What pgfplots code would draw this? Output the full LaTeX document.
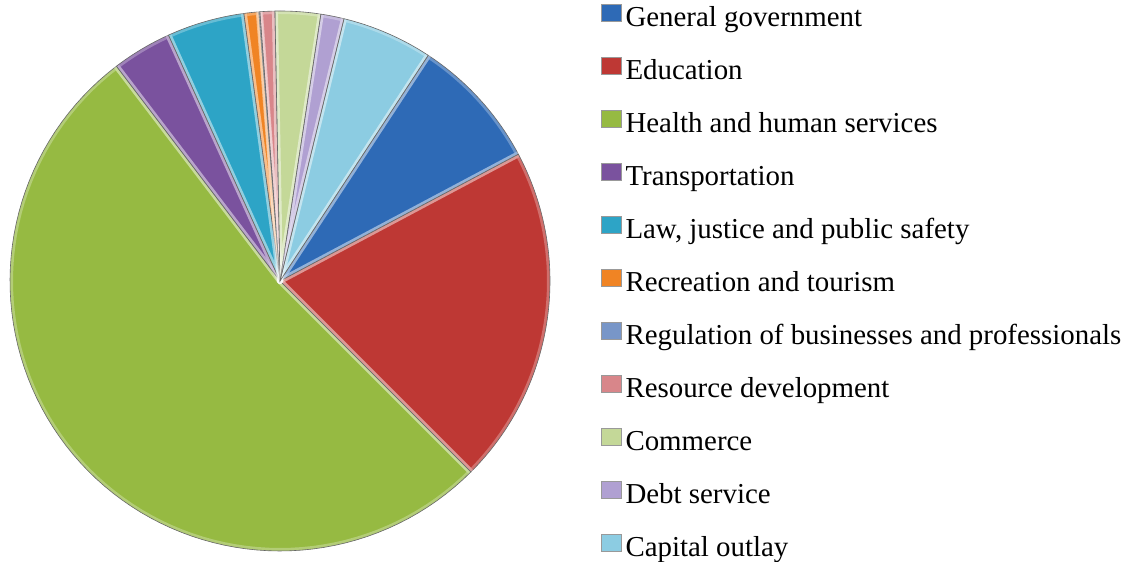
\documentclass[border=0pt]{standalone}
\usepackage{pgfplots}
\pgfplotsset{compat=1.18}
\usepackage{fontspec}
\setmainfont{Liberation Serif}

\definecolor{cGen}{RGB}{46,106,182}
\definecolor{cEdu}{RGB}{190,56,52}
\definecolor{cHea}{RGB}{150,186,66}
\definecolor{cTra}{RGB}{122,82,158}
\definecolor{cLaw}{RGB}{45,164,198}
\definecolor{cRec}{RGB}{240,132,36}
\definecolor{cReg}{RGB}{120,150,200}
\definecolor{cRes}{RGB}{216,134,138}
\definecolor{cCom}{RGB}{196,216,152}
\definecolor{cDeb}{RGB}{176,160,210}
\definecolor{cCap}{RGB}{140,204,226}

% start angle of first slice, degrees clockwise from 12 o'clock
\newcommand\startangle{33.3}
\newcommand\cum{\startangle}
% #1 colour, #2 percent, #3 legend text
\newcommand\pieslice[3]{%
  \pgfmathsetmacro\sa{90-\cum}%
  \pgfmathsetmacro\sb{90-\cum-3.6*#2}%
  \pgfmathsetmacro\newcum{\cum+3.6*#2}%
  \xdef\cum{\newcum}%
  \edef\doplot{\noexpand\addplot[fill=#1, draw=none, domain=\sb:\sa, samples=80, variable=\noexpand\t] ({280+270*cos(\noexpand\t)},{281+270*sin(\noexpand\t)}) -- (axis cs:280,281) -- cycle;}%
  \doplot
  \addlegendentry{#3}%
}
% second pass: bevel highlight and dark edge
\newcommand\pieedge[1]{%
  \pgfmathsetmacro\sa{90-\cum}%
  \pgfmathsetmacro\sb{90-\cum-3.6*#1}%
  \pgfmathsetmacro\newcum{\cum+3.6*#1}%
  \xdef\cum{\newcum}%
  \edef\doplot{\noexpand\addplot[forget plot, fill=none, draw=white, draw opacity=0.28, line width=6bp, line join=round, domain=\sb:\sa, samples=80, variable=\noexpand\t] ({280+270*cos(\noexpand\t)},{281+270*sin(\noexpand\t)}) -- (axis cs:280,281) -- cycle;
  \noexpand\addplot[forget plot, fill=none, draw=black!60, line width=0.6bp, domain=\sb:\sa, samples=80, variable=\noexpand\t] ({280+270*cos(\noexpand\t)},{281+270*sin(\noexpand\t)}) -- (axis cs:280,281) -- cycle;}%
  \doplot
}

\begin{document}
\begin{tikzpicture}
\begin{axis}[
  width=1129bp, height=562bp, scale only axis,
  xmin=0, xmax=1129, ymin=0, ymax=562,
  axis lines=none, clip=false,
  after end axis/.code={\path (rel axis cs:0,0) (rel axis cs:1,1);},
  legend cell align=left,
  legend image code/.code={\draw[#1,draw=black!40,line width=0.5bp] (0bp,-5.5bp) rectangle (20bp,11.5bp);},
  legend style={at={(axis cs:601,562)}, anchor=north west, draw=none, fill=none,
    inner sep=0pt, outer sep=0pt, row sep=21bp,
    /tikz/every odd column/.style={column sep=4bp},
    nodes={inner sep=0pt, text height=27bp, text depth=5bp, font=\fontsize{29}{33}\selectfont}},
]
\pieslice{cGen}{7.97}{General government}
\pieslice{cEdu}{20.28}{Education}
\pieslice{cHea}{52.14}{Health and human services}
\pieslice{cTra}{3.58}{Transportation}
\pieslice{cLaw}{4.64}{Law, justice and public safety}
\pieslice{cRec}{0.89}{Recreation and tourism}
\pieslice{cReg}{0.06}{Regulation of businesses and professionals}
\pieslice{cRes}{0.89}{Resource development}
\pieslice{cCom}{2.72}{Commerce}
\pieslice{cDeb}{1.39}{Debt service}
\pieslice{cCap}{5.44}{Capital outlay}
\xdef\cum{\startangle}
\pieedge{7.97}
\pieedge{20.28}
\pieedge{52.14}
\pieedge{3.58}
\pieedge{4.64}
\pieedge{0.89}
\pieedge{0.06}
\pieedge{0.89}
\pieedge{2.72}
\pieedge{1.39}
\pieedge{5.44}
\end{axis}
\end{tikzpicture}
\end{document}
